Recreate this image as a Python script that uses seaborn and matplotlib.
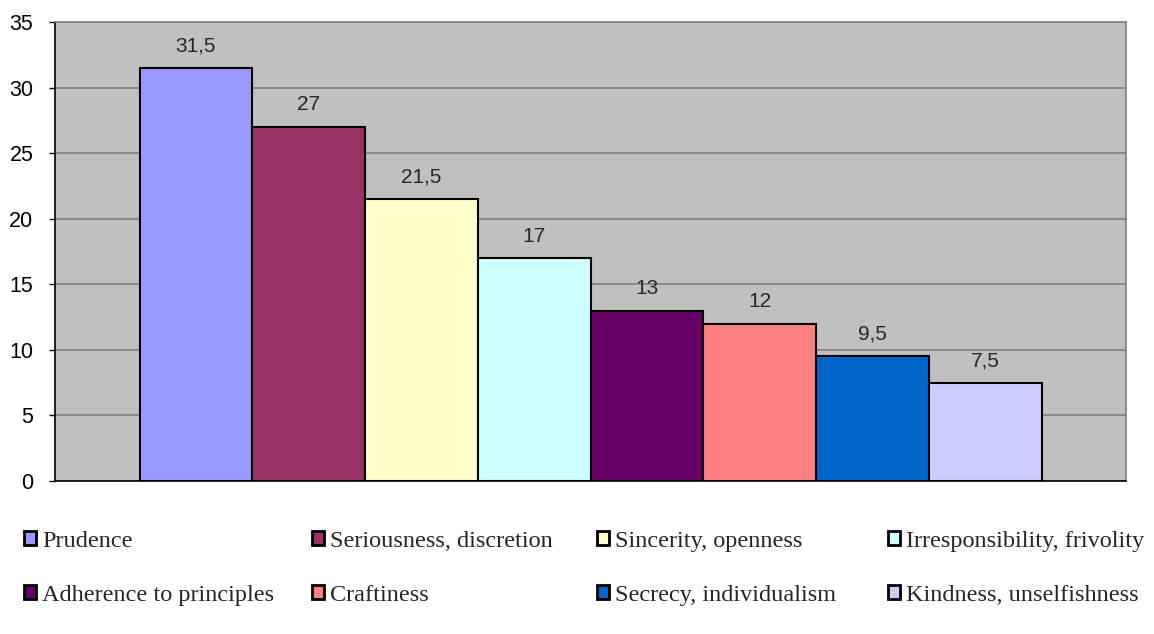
import pandas as pd
import matplotlib
matplotlib.use("Agg")
import matplotlib.pyplot as plt
import seaborn as sns

traits = [
    "Prudence",
    "Seriousness, discretion",
    "Sincerity, openness",
    "Irresponsibility, frivolity",
    "Adherence to principles",
    "Craftiness",
    "Secrecy, individualism",
    "Kindness, unselfishness",
]
scores = [31.5, 27, 21.5, 17, 13, 12, 9.5, 7.5]
colors = ["#9999FF", "#993366", "#FFFFCC", "#CCFFFF",
          "#660066", "#FF8080", "#0066CC", "#CCCCFF"]

df = pd.DataFrame({"group": [""] * len(traits), "trait": traits, "score": scores})

sns.set_style("white")
plt.rcParams["font.family"] = ["Liberation Sans", "DejaVu Sans"]

fig = plt.figure(figsize=(11.54, 6.34), dpi=100)
ax = fig.add_axes([55 / 1154, 1 - 481 / 634, (1126 - 55) / 1154, (481 - 22) / 634])

sns.barplot(data=df, x="group", y="score", hue="trait", hue_order=traits,
            palette=colors, width=902 / 1071, dodge=True, gap=0,
            edgecolor="black", linewidth=1.5, saturation=1, ax=ax)

ax.set_facecolor("#C0C0C0")
ax.set_ylim(0, 35)
ax.set_xlim(-0.5, 0.5)
ax.set_yticks(range(0, 36, 5))
ax.yaxis.grid(True, color="#808080", linewidth=1.2)
ax.set_axisbelow(True)
ax.set_xticks([])
ax.set_xlabel("")
ax.set_ylabel("")
ax.tick_params(axis="y", labelsize=15.5, length=4.5, width=1, left=True, pad=11, colors="black")
for side in ["top", "right"]:
    ax.spines[side].set_color("#808080")
    ax.spines[side].set_linewidth(1.2)
for side in ["left", "bottom"]:
    ax.spines[side].set_color("black")
    ax.spines[side].set_linewidth(1.2)

for cont, val in zip(ax.containers, scores):
    ax.bar_label(cont, labels=[f"{val:g}".replace(".", ",")], padding=9, fontsize=15)

handles, labels = ax.get_legend_handles_labels()
ax.get_legend().remove()
for h in handles:
    h.set_linewidth(2)

col_x = [14, 302, 587, 878]
for c in range(4):
    idx = [c, c + 4]
    fig.legend([handles[i] for i in idx], [labels[i] for i in idx],
               loc="upper left", bbox_to_anchor=(col_x[c] / 1154, 1 - 521 / 634),
               frameon=False, handlelength=0.5, handleheight=0.5, handletextpad=0.25,
               labelspacing=1.35, borderaxespad=0,
               prop={"family": "Liberation Serif", "size": 17.5})

fig.savefig("out.png", dpi=100)
